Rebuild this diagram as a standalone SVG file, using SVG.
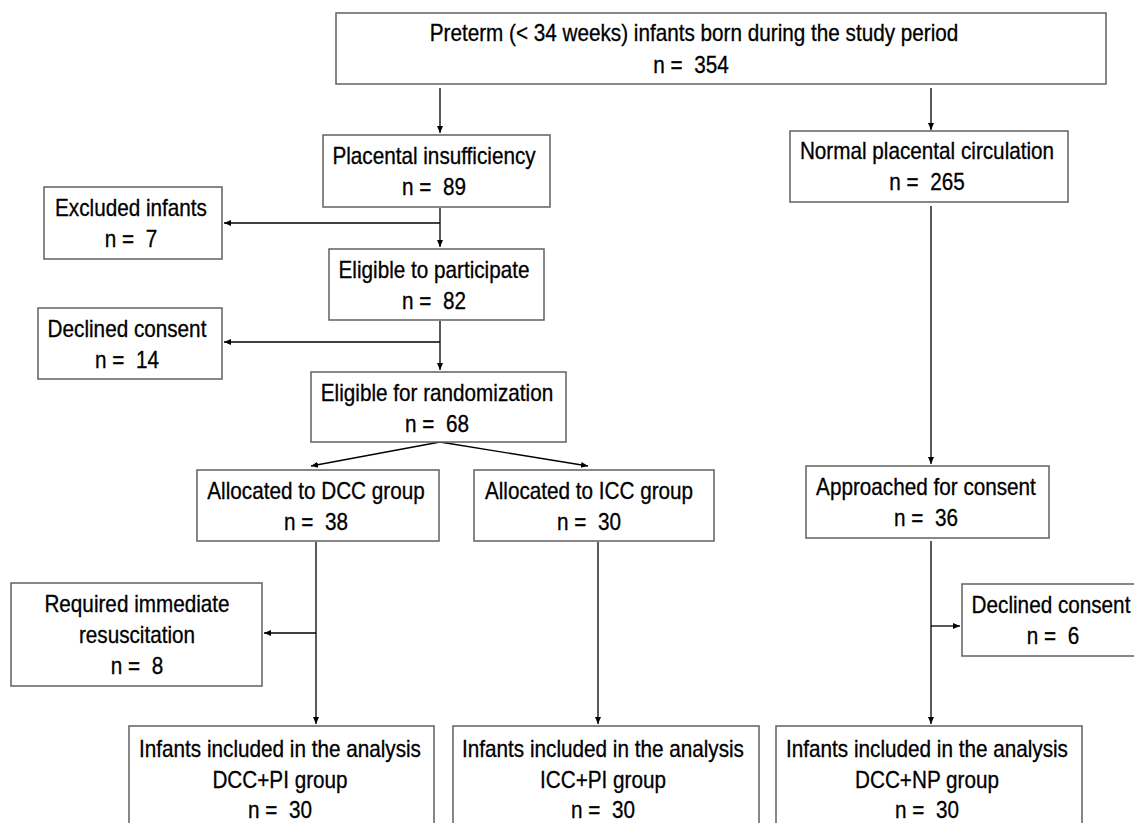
<svg xmlns="http://www.w3.org/2000/svg" width="1134" height="823" viewBox="0 0 1134 823">
<style>
.box{fill:#fff;stroke:#606060;stroke-width:1.5}
.t{font-family:"Liberation Sans",Arial,sans-serif;font-size:23px;fill:#000;stroke:#000;stroke-width:0.3;text-anchor:middle;white-space:pre}
.c{fill:none;stroke:#000;stroke-width:1.3}
</style>
<defs>
<marker id="ah" markerWidth="8" markerHeight="8" refX="7" refY="4" orient="auto" markerUnits="userSpaceOnUse">
<path d="M0,1 L7,4 L0,7 Z" fill="#000"/>
</marker>
</defs>
<rect width="1134" height="823" fill="#fff"/>
<g id="connectors">
<line class="c" x1="440" y1="88" x2="440" y2="133" marker-end="url(#ah)"/>
<line class="c" x1="931" y1="88" x2="931" y2="130" marker-end="url(#ah)"/>
<line class="c" x1="440" y1="208" x2="440" y2="247" marker-end="url(#ah)"/>
<line class="c" x1="440" y1="223" x2="224" y2="223" marker-end="url(#ah)"/>
<line class="c" x1="440" y1="321" x2="440" y2="370" marker-end="url(#ah)"/>
<line class="c" x1="440" y1="342" x2="224" y2="342" marker-end="url(#ah)"/>
<line class="c" x1="440" y1="442" x2="311" y2="466" marker-end="url(#ah)"/>
<line class="c" x1="440" y1="442" x2="588" y2="466" marker-end="url(#ah)"/>
<line class="c" x1="316" y1="542" x2="316" y2="724" marker-end="url(#ah)"/>
<line class="c" x1="316" y1="633" x2="264" y2="633" marker-end="url(#ah)"/>
<line class="c" x1="598" y1="542" x2="598" y2="724" marker-end="url(#ah)"/>
<line class="c" x1="931" y1="206" x2="931" y2="464" marker-end="url(#ah)"/>
<line class="c" x1="931" y1="541" x2="931" y2="724" marker-end="url(#ah)"/>
<line class="c" x1="931" y1="626" x2="960" y2="626" marker-end="url(#ah)"/>
</g>
<g id="n_total">
<rect class="box" x="336" y="13" width="770" height="71"/>
<text class="t" transform="translate(694,41) scale(0.9,1)">Preterm (&lt; 34 weeks) infants born during the study period</text>
<text class="t" transform="translate(691,73) scale(0.9,1)">n =  354</text>
</g>
<g id="n_pi">
<rect class="box" x="323" y="135" width="227" height="72"/>
<text class="t" transform="translate(434,164) scale(0.9,1)">Placental insufficiency</text>
<text class="t" transform="translate(434,195) scale(0.9,1)">n =  89</text>
</g>
<g id="n_excluded">
<rect class="box" x="44" y="187" width="178" height="72"/>
<text class="t" transform="translate(131,216) scale(0.9,1)">Excluded infants</text>
<text class="t" transform="translate(131,247) scale(0.9,1)">n =  7</text>
</g>
<g id="n_eligible">
<rect class="box" x="329" y="249" width="215" height="71"/>
<text class="t" transform="translate(434,278) scale(0.9,1)">Eligible to participate</text>
<text class="t" transform="translate(434,309) scale(0.9,1)">n =  82</text>
</g>
<g id="n_declined1">
<rect class="box" x="38" y="308" width="184" height="71"/>
<text class="t" transform="translate(127,337) scale(0.9,1)">Declined consent</text>
<text class="t" transform="translate(127,368) scale(0.9,1)">n =  14</text>
</g>
<g id="n_random">
<rect class="box" x="311" y="372" width="255" height="70"/>
<text class="t" transform="translate(437,401) scale(0.9,1)">Eligible for randomization</text>
<text class="t" transform="translate(437,432) scale(0.9,1)">n =  68</text>
</g>
<g id="n_dcc">
<rect class="box" x="197" y="470" width="242" height="71"/>
<text class="t" transform="translate(316,499) scale(0.9,1)">Allocated to DCC group</text>
<text class="t" transform="translate(316,530) scale(0.9,1)">n =  38</text>
</g>
<g id="n_icc">
<rect class="box" x="474" y="470" width="240" height="71"/>
<text class="t" transform="translate(589,499) scale(0.9,1)">Allocated to ICC group</text>
<text class="t" transform="translate(589,530) scale(0.9,1)">n =  30</text>
</g>
<g id="n_normal">
<rect class="box" x="790" y="131" width="278" height="71"/>
<text class="t" transform="translate(927,159) scale(0.9,1)">Normal placental circulation</text>
<text class="t" transform="translate(927,190) scale(0.9,1)">n =  265</text>
</g>
<g id="n_approached">
<rect class="box" x="806" y="466" width="243" height="72"/>
<text class="t" transform="translate(926,495) scale(0.9,1)">Approached for consent</text>
<text class="t" transform="translate(926,526) scale(0.9,1)">n =  36</text>
</g>
<g id="n_declined2">
<rect class="box" x="962" y="584" width="180" height="72"/>
<text class="t" transform="translate(1051,613) scale(0.9,1)">Declined consent</text>
<text class="t" transform="translate(1053,644) scale(0.9,1)">n =  6</text>
</g>
<g id="n_resus">
<rect class="box" x="11" y="583" width="251" height="103"/>
<text class="t" transform="translate(137,612) scale(0.9,1)">Required immediate</text>
<text class="t" transform="translate(137,643) scale(0.9,1)">resuscitation</text>
<text class="t" transform="translate(137,674) scale(0.9,1)">n =  8</text>
</g>
<g id="n_out1">
<rect class="box" x="129" y="726" width="305" height="110"/>
<text class="t" transform="translate(280,757) scale(0.9,1)">Infants included in the analysis</text>
<text class="t" transform="translate(280,788) scale(0.9,1)">DCC+PI group</text>
<text class="t" transform="translate(280,818) scale(0.9,1)">n =  30</text>
</g>
<g id="n_out2">
<rect class="box" x="453" y="726" width="306" height="110"/>
<text class="t" transform="translate(603,757) scale(0.9,1)">Infants included in the analysis</text>
<text class="t" transform="translate(603,788) scale(0.9,1)">ICC+PI group</text>
<text class="t" transform="translate(603,818) scale(0.9,1)">n =  30</text>
</g>
<g id="n_out3">
<rect class="box" x="776" y="726" width="306" height="110"/>
<text class="t" transform="translate(927,757) scale(0.9,1)">Infants included in the analysis</text>
<text class="t" transform="translate(927,788) scale(0.9,1)">DCC+NP group</text>
<text class="t" transform="translate(927,818) scale(0.9,1)">n =  30</text>
</g>
</svg>
